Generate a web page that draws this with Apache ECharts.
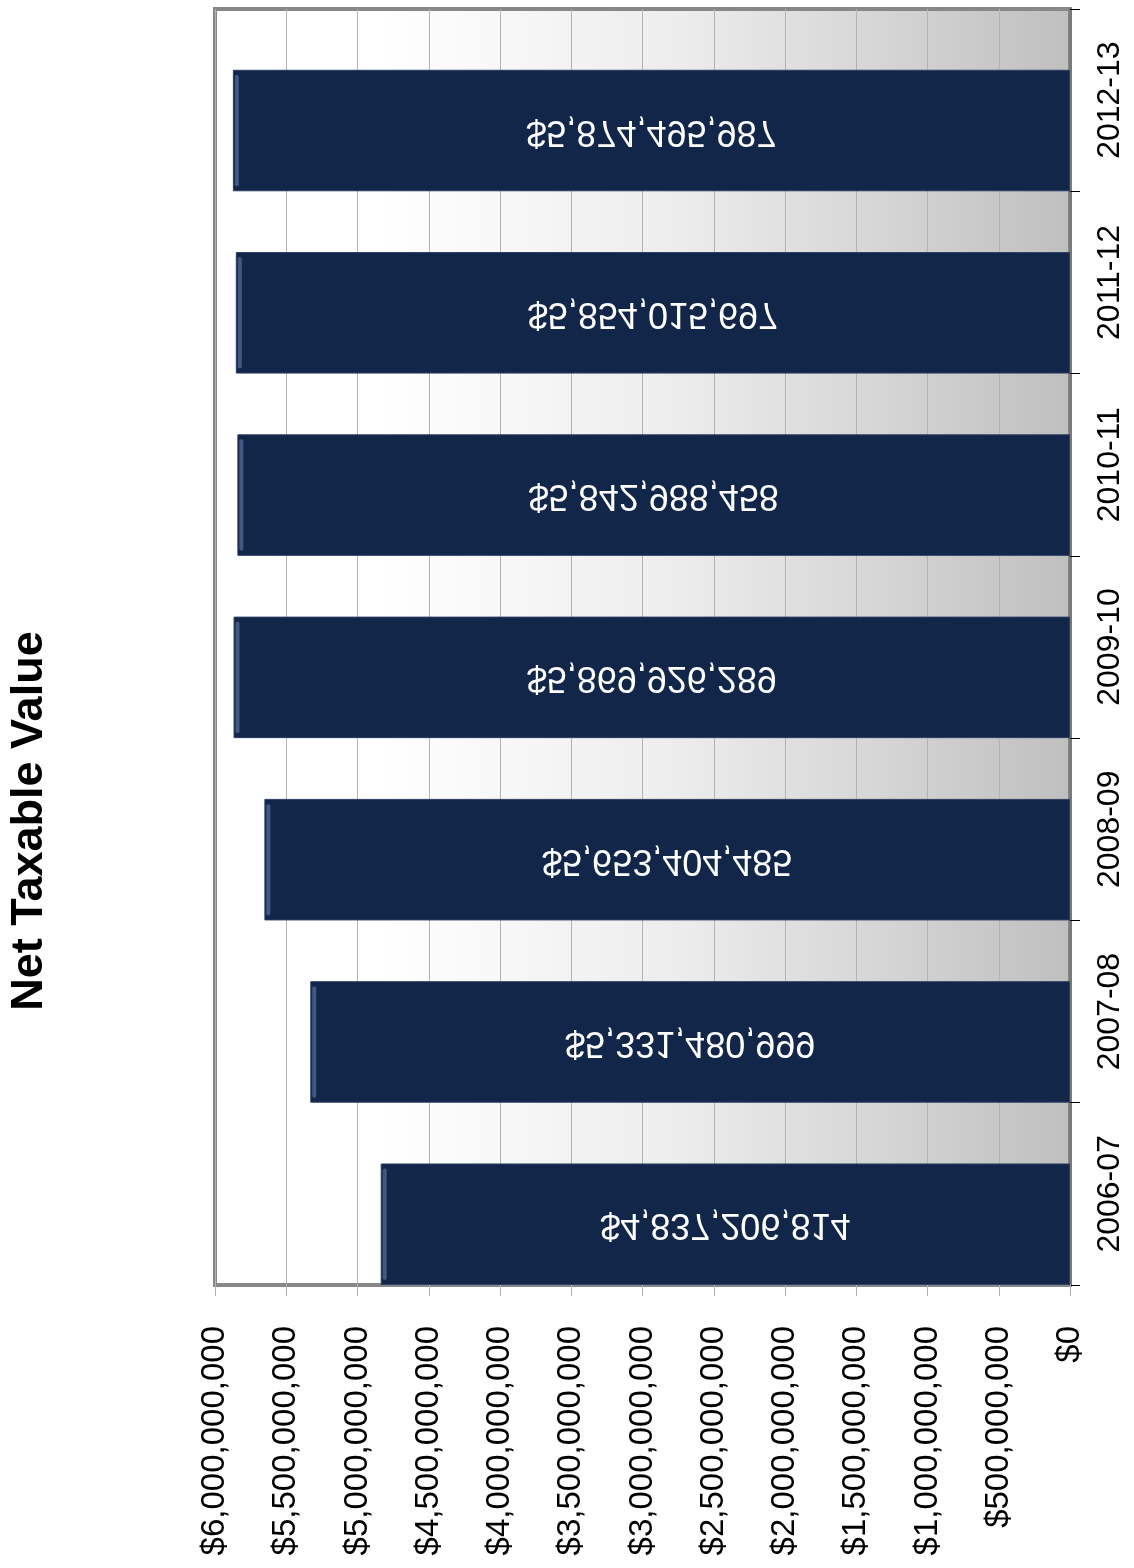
<!DOCTYPE html>
<html>
<head>
<meta charset="utf-8">
<title>Net Taxable Value</title>
<script src="https://cdn.jsdelivr.net/npm/echarts@6/dist/echarts.min.js"></script>
<style>
  html, body { margin: 0; padding: 0; background: #ffffff; }
  #chart { width: 1134px; height: 1568px; }
</style>
</head>
<body>
<div id="chart"></div>
<script>
// Fiscal years and net taxable value (USD)
const categories = ['2006-07', '2007-08', '2008-09', '2009-10', '2010-11', '2011-12', '2012-13'];
const netTaxableValue = [4837206814, 5331480999, 5653404485, 5869926289, 5842988458, 5854015697, 5874495987];
const emptySeries = [null, null, null, null, null, null, null];

// Value axis ticks
const axisMin = 0;
const axisMax = 6000000000;
const axisStep = 500000000;

const FONT = '"Liberation Sans", Arial, Helvetica, sans-serif';
const BAR_COLOR = '#12264a';
const money = v => '$' + Math.round(v).toLocaleString('en-US');

// Real bar takes the lower two thirds of each band; the empty series fills the rest.
const BAR_SHARE = 2 / 3;

const chart = echarts.init(document.getElementById('chart'), null, { renderer: 'canvas' });

chart.setOption({
  animation: false,
  backgroundColor: '#ffffff',
  grid: {
    left: 215, right: 64, top: 9, bottom: 283,
    show: true,
    borderColor: '#878787',
    borderWidth: 4,
    backgroundColor: {
      type: 'linear', x: 0, y: 0, x2: 1, y2: 0,
      colorStops: [
        { offset: 0, color: '#ffffff' },
        { offset: 0.2, color: '#ffffff' },
        { offset: 0.55, color: '#ececec' },
        { offset: 1, color: '#bfbfbf' }
      ]
    }
  },
  xAxis: {
    type: 'value',
    inverse: true,
    position: 'bottom',
    min: axisMin,
    max: axisMax,
    interval: axisStep,
    axisLine: { show: false },
    axisTick: { show: true, length: 11, lineStyle: { color: '#b0b0b0', width: 1 } },
    splitLine: { show: true, lineStyle: { color: '#b3b3b3', width: 1 } },
    axisLabel: {
      rotate: 90,
      margin: 41,
      fontFamily: FONT,
      fontSize: 33,
      color: '#000000',
      formatter: money
    }
  },
  yAxis: {
    type: 'category',
    position: 'right',
    data: categories,
    boundaryGap: true,
    axisLine: { show: true, lineStyle: { color: '#7a7a7a', width: 3 } },
    axisTick: { show: true, length: 10, inside: false, lineStyle: { color: '#000000', width: 1 } },
    splitLine: { show: false },
    axisLabel: {
      rotate: 90,
      margin: 24,
      fontFamily: FONT,
      fontSize: 32,
      color: '#000000'
    }
  },
  series: [
    {
      name: 'spacer',
      type: 'bar',
      data: emptySeries,
      barWidth: ((1 - BAR_SHARE) * 100) + '%',
      barGap: '0%',
      barCategoryGap: '0%',
      silent: true
    },
    {
      name: 'Net Taxable Value',
      type: 'bar',
      data: netTaxableValue,
      barWidth: (BAR_SHARE * 100) + '%',
      barGap: '0%',
      barCategoryGap: '0%',
      itemStyle: { color: BAR_COLOR, borderColor: '#2c3f62', borderWidth: 1 },
      z: 2
    },
    {
      // value labels (mirrored) and the bevel highlight at each bar's end
      name: 'labels',
      type: 'custom',
      coordinateSystem: 'cartesian2d',
      encode: { x: 0, y: 1 },
      data: netTaxableValue.map((v, i) => [v, i]),
      z: 3,
      silent: true,
      renderItem: function (params, api) {
        const v = api.value(0);
        const idx = api.value(1);
        const band = api.size([0, 1])[1];
        const mid = api.coord([v / 2, idx]);
        const end = api.coord([v, idx]);
        const barTop = mid[1] + band / 2 - band * BAR_SHARE;
        const barH = band * BAR_SHARE;
        const barCenter = barTop + barH / 2;
        return {
          type: 'group',
          children: [
            {
              type: 'rect',
              shape: { x: end[0] + 2, y: barTop + 5, width: 4, height: barH - 10, r: 2 },
              style: { fill: 'rgba(96, 124, 166, 0.6)' }
            },
            {
              type: 'text',
              x: mid[0],
              y: barCenter,
              scaleY: -1,
              style: {
                text: money(v),
                fill: '#ffffff',
                font: '36px ' + FONT,
                align: 'center',
                verticalAlign: 'middle'
              }
            }
          ]
        };
      }
    }
  ],
  graphic: [
    {
      type: 'text',
      x: 30,
      y: 821,
      rotation: Math.PI / 2,
      style: {
        text: 'Net Taxable Value',
        font: 'bold 45px ' + FONT,
        fill: '#000000',
        align: 'center',
        verticalAlign: 'middle'
      }
    }
  ]
});
</script>
</body>
</html>
